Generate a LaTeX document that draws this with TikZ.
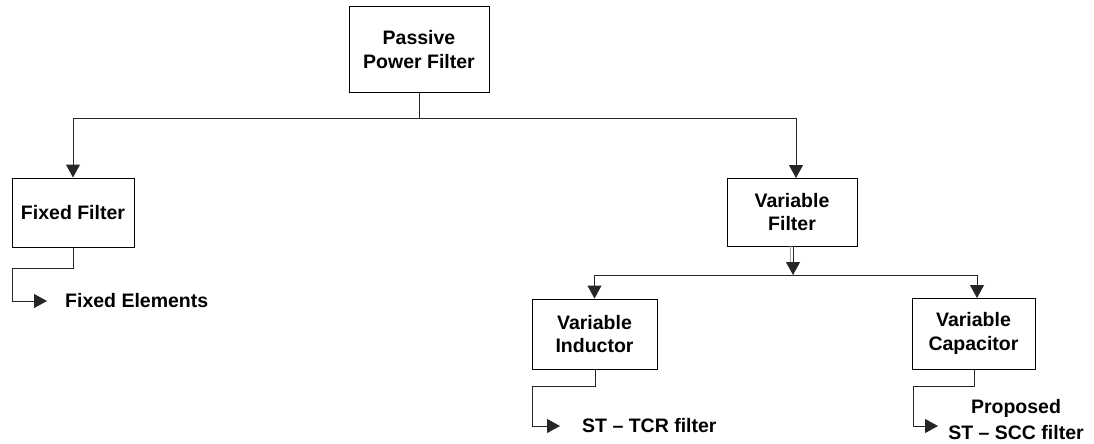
\documentclass[tikz,border=0pt]{standalone}
\usepackage{fontspec}
\setmainfont{Liberation Sans}
\usetikzlibrary{arrows.meta,calc}
\begin{document}
\begin{tikzpicture}[x=1pt,y=-1pt,
  box/.style={draw=black,line width=1pt,fill=white,align=center,inner sep=0pt,
    font=\fontsize{19.5}{23.5}\selectfont\bfseries},
  lbl/.style={inner sep=0pt,align=center,font=\fontsize{19.5}{26}\selectfont\bfseries},
  wire/.style={draw=black!85,line width=1pt},
  arr/.style={wire,-{Triangle[width=14pt,length=13pt]}}]
\useasboundingbox (0,0) rectangle (1094,444);

% boxes
\node[box,minimum width=140pt,minimum height=85pt] (pf) at (419,49.5) {Passive\\Power Filter};
\node[box,minimum width=122pt,minimum height=69pt] (ff) at (73,212.5) {Fixed Filter};
\node[box,minimum width=130pt,minimum height=68pt] (vf) at (792,212) {Variable\\Filter};
\node[box,minimum width=125pt,minimum height=70pt] (vi) at (594.5,334) {Variable\\Inductor};
\node[box,minimum width=123pt,minimum height=71pt] (vc) at (973.5,333.5) {Variable\\Capacitor};

% leaf labels
\node[lbl,anchor=west] (fe) at (65,301) {Fixed Elements};
\node[lbl,anchor=west] (tcr) at (582,426) {ST -- TCR filter};
\node[lbl] (scc) at (1016,420) {Proposed\\ST -- SCC filter};

% first level split
\coordinate (b1) at (419,118);
\coordinate (vfin) at (796,178);
\draw[wire] (pf.south) -- (b1);
\draw[arr] (b1) -| (ff.north);
\draw[arr] (b1) -| (vfin);

% second level split
\coordinate (b2) at (793,275);
\coordinate (vcin) at (977,298);
\draw[draw=black!35,line width=0.6pt] (790.5,246) -- (790.5,262);
\draw[arr] (793,246) -- (b2);
\draw[arr] (b2) -| (vi.north);
\draw[arr] (b2) -| (vcin);

% leaf connectors
\coordinate (fe0) at (47,301);
\draw[arr] (ff.south) |- (12,268) |- (fe0);
\coordinate (tcr0) at (560,426);
\draw[arr] (595,369) |- (532,386) |- (tcr0);
\coordinate (scc0) at (938,426);
\draw[arr] (974,369) |- (913,386) |- (scc0);
\end{tikzpicture}
\end{document}
